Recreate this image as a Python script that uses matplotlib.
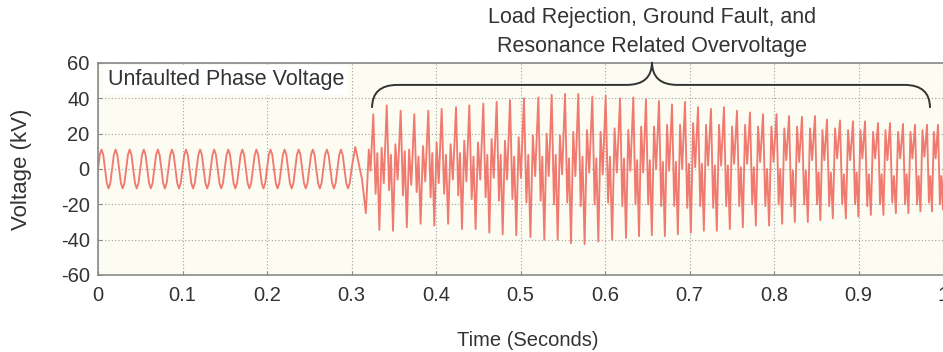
import numpy as np
import matplotlib
matplotlib.use("Agg")
import matplotlib.pyplot as plt
from matplotlib.path import Path
from matplotlib.patches import PathPatch

plt.rcParams['font.family'] = ['Liberation Sans', 'DejaVu Sans']
plt.rcParams['axes.unicode_minus'] = False

# ---- data ----
# unfaulted 60 Hz phase voltage, digitised at 1/8-cycle steps (kV)
pre_freq_hz = 60.0
pre_cycles = 18
pre_cycle_kv = [0, 8, 11, 8, 0, -8, -11, -8]

# transition right after the fault (s, kV)
trans_t = [0.3000, 0.3045, 0.3125, 0.3170, 0.3205, 0.3225]
trans_kv = [0, 12.5, -6, -25, 11, -1]

# overvoltage: time of each tall positive peak (s)
peak_t = [0.3258, 0.3417, 0.3582, 0.3743, 0.3909, 0.4067, 0.4237, 0.4394,
          0.4560, 0.4718, 0.4876, 0.5041, 0.5211, 0.5369, 0.5527, 0.5684,
          0.5850, 0.6008, 0.6178, 0.6335, 0.6485, 0.6639, 0.6793, 0.6947,
          0.7101, 0.7254, 0.7408, 0.7562, 0.7716, 0.7870, 0.8030, 0.8178,
          0.8331, 0.8485, 0.8627, 0.8781, 0.8935, 0.9077, 0.9231, 0.9373,
          0.9527, 0.9669, 0.9811, 0.9941]
# tall peak of each cycle (kV)
peak_kv = [31, 36, 33, 31, 33, 34, 35, 36, 37, 38, 39, 40,
           40.5, 42, 42.5, 42.5, 41, 41.5, 40, 40.5, 39.5, 38.5,
           36.5, 38, 35, 34, 35, 33, 32, 31, 31, 30,
           29.5, 30, 28, 27.5, 27, 27, 26, 26, 25.5, 25, 25, 25]
# secondary trough after the peak
a_kv = [-14, -12, -15, -13, -16, -14, -15, -17, -16, -18, -17, -19,
        -18, -20, -19, -21, -20, -19, -21, -20, -20, -21,
        -21, -22, -21, -22, -21, -21, -20, -21, -20, -21,
        -20, -20, -21, -20, -20, -21, -20, -19, -20, -20, -19, -20]
# small bump before the deep trough
b_kv = [9, 8, 10, 7, 9, 8, 9, 7, 8, 8, 7, 8,
        7, 8, 6, 7, 6, 7, 6, 5, 5, 4,
        4, 3, 3, 2, 2, 1, 1, 0, 0, -1,
        -1, -2, -2, -3, -2, -3, -3, -4, -3, -4, -4, -4]
# deep trough of each cycle
trough_kv = [-34.5, -35, -33, -31, -32, -31, -34, -34, -36, -37, -37.5, -38.5,
             -40, -40, -42, -42.5, -41, -40, -39, -38, -37.5, -38,
             -37, -36, -35, -35, -34, -33, -32, -32, -31, -30,
             -30, -29, -28, -28, -27, -26, -26, -25, -25, -24, -24, -23]
# secondary positive hump
c_kv = [12, 14, 11, 13, 15, 14, 16, 15, 17, 16, 18, 19,
        20, 19, 21, 22, 21, 23, 22, 24, 24, 25,
        25, 26, 25, 25, 24, 25, 24, 24, 23, 24,
        23, 22, 23, 22, 22, 21, 22, 21, 21, 22, 21, 21]
# small dip before the next tall peak
d_kv = [-8, -6, -9, -7, -8, -6, -7, -6, -5, -6, -5, -4,
        -4, -3, -4, -2, -3, -2, -1, -2, 0, -1,
        0, 1, 2, 2, 3, 3, 4, 4, 5, 4,
        5, 5, 6, 5, 6, 6, 5, 6, 6, 7, 6, 6]
# where each extreme sits inside one cycle (fraction of the cycle)
cycle_phase = [0.0, 0.17, 0.30, 0.45, 0.62, 0.78]

x_ticks = [0, 0.1, 0.2, 0.3, 0.4, 0.5, 0.6, 0.7, 0.8, 0.9, 1.0]
x_labels = ['0', '0.1', '0.2', '0.3', '0.4', '0.5', '0.6', '0.7', '0.8', '0.9', '1']
y_ticks = [-60, -40, -20, 0, 20, 40, 60]

# ---- build the trace ----
t, v = [], []
step = 1.0 / (pre_freq_hz * len(pre_cycle_kv))
for k in range(pre_cycles):
    for j, kv in enumerate(pre_cycle_kv):
        t.append((k * len(pre_cycle_kv) + j) * step)
        v.append(kv)
t += trans_t
v += trans_kv
levels = list(zip(peak_kv, a_kv, b_kv, trough_kv, c_kv, d_kv))
for i, t0 in enumerate(peak_t):
    period = peak_t[i + 1] - t0 if i + 1 < len(peak_t) else t0 - peak_t[i - 1]
    for ph, kv in zip(cycle_phase, levels[i]):
        t.append(t0 + ph * period)
        v.append(kv)

# ---- figure ----
fig = plt.figure(figsize=(9.43, 3.52), dpi=100)
ax = fig.add_axes([98 / 943, 77 / 352, 845 / 943, 212 / 352])
ax.set_facecolor('#fdfcf2')

ax.plot(t, v, color='#f07a70', lw=1.35)

ax.set_xlim(0, 1)
ax.set_ylim(-60, 60)
ax.set_xticks(x_ticks)
ax.set_xticklabels(x_labels)
ax.set_yticks(y_ticks)
ax.grid(True, color='#a0a0a0', lw=0.8, linestyle=(0, (1, 2)))
ax.set_axisbelow(True)

for s in ['left', 'bottom', 'top']:
    ax.spines[s].set_color('#8a8a8a')
    ax.spines[s].set_linewidth(1.2)
ax.spines['right'].set_visible(False)
ax.tick_params(direction='in', length=3, color='#8a8a8a',
               labelsize=14.5, labelcolor='#333333')
ax.tick_params(axis='x', pad=8)
ax.tick_params(axis='y', pad=6)

ax.set_xlabel('Time (Seconds)', fontsize=14.5, color='#333333')
ax.xaxis.set_label_coords((528 - 98) / 845, -56 / 212)
ax.set_ylabel('Voltage (kV)', fontsize=16, color='#333333')
ax.yaxis.set_label_coords(-66 / 845, 0.5)

ax.text(0.0115, 50.4, 'Unfaulted Phase Voltage', fontsize=15.5, color='#333333',
        va='center', ha='left', zorder=5,
        bbox=dict(facecolor='white', edgecolor='none', pad=3))

# curly brace over the overvoltage part
xl, xr, xm = 0.3243, 0.9846, 0.6556
yb, yh, yt = 34.6, 47.6, 60.6
verts = [(xl, yb), (xl, yh), (xl + 0.03, yh),
         (xm - 0.03, yh),
         (xm, yh), (xm, yt),
         (xm, yh), (xm + 0.03, yh),
         (xr - 0.03, yh),
         (xr, yh), (xr, yb)]
codes = [Path.MOVETO, Path.CURVE3, Path.CURVE3,
         Path.LINETO,
         Path.CURVE3, Path.CURVE3,
         Path.CURVE3, Path.CURVE3,
         Path.LINETO,
         Path.CURVE3, Path.CURVE3]
ax.add_patch(PathPatch(Path(verts, codes), facecolor='none', edgecolor='#333333',
                       lw=1.4, clip_on=False, zorder=6))

fig.text(652 / 943, 1 - 32 / 352,
         'Load Rejection, Ground Fault, and\nResonance Related Overvoltage',
         ha='center', va='center', fontsize=15.5, color='#333333',
         linespacing=1.5)

fig.savefig('out.png', dpi=100)
